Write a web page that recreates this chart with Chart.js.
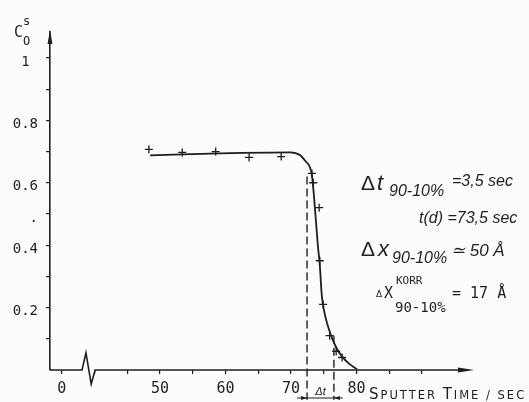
<!DOCTYPE html>
<html>
<head>
<meta charset="utf-8">
<script src="https://cdn.jsdelivr.net/npm/chart.js@4.4.1/dist/chart.umd.min.js"></script>
<style>
  html, body { margin: 0; padding: 0; background: #fcfcfa; }
  #wrap { width: 529px; height: 402px; position: relative; }
</style>
</head>
<body>
<div id="wrap"><canvas id="grafico"></canvas></div>
<script>
// Pontos medidos (cruzes)
const pontosT = [48.3, 53.4, 58.5, 63.6, 68.5, 73.2, 73.4, 74.3, 74.4, 74.9, 75.9, 76.9, 77.8];
const pontosC = [0.707, 0.697, 0.700, 0.681, 0.684, 0.63, 0.60, 0.52, 0.35, 0.21, 0.11, 0.06, 0.04];

// Curva ajustada (traço contínuo)
const curvaT = [48.5, 59.2, 69.9, 71.4, 72.1, 72.9, 73.2, 73.5, 73.8, 74.1, 74.4, 74.7, 75.2, 76.0, 76.9, 77.8, 79.0, 80.1];
const curvaC = [0.688, 0.694, 0.697, 0.688, 0.672, 0.649, 0.623, 0.559, 0.479, 0.399, 0.335, 0.239, 0.175, 0.117, 0.072, 0.043, 0.018, 0.002];

// Linhas tracejadas 90% / 10%
const tracoT = [72.45, 76.55];
const tracoTopo = [0.62, 0.11];
const tracoFundo = -0.095;

// Linha de base com quebra de eixo
const baseT = [33.2, 38.1, 38.7, 39.5, 40.1, 97.0];
const baseC = [0, 0, 0.055, -0.045, 0, 0];

// Marcas dos eixos
const xTicks = [35, 40, 45, 50, 55, 60, 65, 70, 75, 80, 85, 90];
const xRotulos = { 35: '0', 50: '50', 60: '60', 70: '70', 80: '80' };
const yTicks = [0.1, 0.2, 0.3, 0.4, 0.5, 0.6, 0.7, 0.8, 0.9, 1.0];
const yRotulos = { '1.0': '1 ', '0.8': '0.8', '0.6': '0.6', '0.5': '.', '0.4': '0.4', '0.2': '0.2' };

const tinta = '#1e1e1e';
const xy = (xs, ys) => xs.map((x, i) => ({ x: x, y: ys[i] }));

// Setas, títulos e anotações
const anotacoes = {
  id: 'anotacoes',
  afterDraw(chart) {
    const c = chart.ctx;
    const a = chart.chartArea;
    const sx = chart.scales.x, sy = chart.scales.y;
    c.save();
    c.fillStyle = tinta;
    c.strokeStyle = tinta;
    c.textBaseline = 'alphabetic';
    c.textAlign = 'left';

    // seta do eixo y
    c.beginPath();
    c.moveTo(a.left, a.top - 2);
    c.lineTo(a.left - 2.5, a.top + 12);
    c.lineTo(a.left + 2.5, a.top + 12);
    c.closePath();
    c.fill();
    // seta do eixo x
    const y0 = sy.getPixelForValue(0);
    c.beginPath();
    c.moveTo(a.right + 2, y0);
    c.lineTo(a.right - 14, y0 - 2.5);
    c.lineTo(a.right - 14, y0 + 2.5);
    c.closePath();
    c.fill();

    // título do eixo y
    c.font = '15px "DejaVu Sans Mono"';
    c.fillText('C', 14, 37);
    c.font = '12px "DejaVu Sans Mono"';
    c.fillText('O', 23, 45);
    c.fillText('s', 23, 25);

    // título do eixo x (versaletes)
    let px = 369;
    c.letterSpacing = '2px';
    const partes = [['S', 15], ['PUTTER ', 11.5], ['T', 15], ['IME / SEC', 11.5]];
    partes.forEach(p => {
      c.font = p[1] + 'px "DejaVu Sans"';
      c.fillText(p[0], px, 399);
      px += c.measureText(p[0]).width;
    });
    c.letterSpacing = '0px';

    // seta Δt sob o eixo
    const xa = sx.getPixelForValue(tracoT[0]);
    const xb = sx.getPixelForValue(tracoT[1]);
    const yb = 398;
    c.lineWidth = 1.2;
    c.beginPath();
    c.moveTo(xa - 10, yb);
    c.lineTo(xb + 9, yb);
    c.stroke();
    c.beginPath();
    c.moveTo(xa, yb); c.lineTo(xa - 6, yb - 2); c.lineTo(xa - 6, yb + 2); c.closePath(); c.fill();
    c.beginPath();
    c.moveTo(xb, yb); c.lineTo(xb + 6, yb - 2); c.lineTo(xb + 6, yb + 2); c.closePath(); c.fill();
    c.font = 'italic 11px "Liberation Sans"';
    c.textAlign = 'center';
    c.fillText('\u0394t', (xa + xb) / 2, 395);
    c.textAlign = 'left';

    // anotações à direita
    c.font = '21px "Liberation Sans"';
    c.fillText('\u0394', 361, 190);
    c.font = 'italic 22px "Liberation Sans"';
    c.fillText('t', 377, 190);
    c.font = 'italic 16px "Liberation Sans"';
    c.fillText('90-10%', 389, 196);
    c.font = 'italic 16px "Liberation Sans"';
    c.fillText('=3,5 sec', 452, 186);

    c.font = 'italic 16px "Liberation Sans"';
    c.fillText('t(d) =73,5 sec', 419, 223);

    c.font = '21px "Liberation Sans"';
    c.fillText('\u0394', 361, 256);
    c.font = 'italic 22px "Liberation Sans"';
    c.fillText('x', 378, 256);
    c.font = 'italic 16px "Liberation Sans"';
    c.fillText('90-10%', 392, 263);
    c.font = 'italic 17px "Liberation Sans"';
    c.fillText('\u2243 50 \u00C5', 451, 256);

    c.font = '9px "DejaVu Sans"';
    c.fillText('\u0394', 376, 297);
    c.font = '15px "DejaVu Sans Mono"';
    c.fillText('X', 384, 298);
    c.font = '11px "DejaVu Sans Mono"';
    c.fillText('KORR', 396, 284);
    c.font = '14px "DejaVu Sans Mono"';
    c.fillText('90-10%', 395, 312);
    c.font = '15px "DejaVu Sans Mono"';
    c.fillText('= 17 \u00C5', 452, 298);

    c.restore();
  }
};

const grafico = new Chart(document.getElementById('grafico'), {
  type: 'scatter',
  data: {
    datasets: [
      {
        label: 'curva',
        data: xy(curvaT, curvaC),
        showLine: true,
        borderColor: tinta,
        borderWidth: 1.8,
        cubicInterpolationMode: 'monotone',
        pointRadius: 0
      },
      {
        label: 'pontos',
        data: xy(pontosT, pontosC),
        showLine: false,
        pointStyle: 'cross',
        pointRadius: 4,
        pointBorderWidth: 1.3,
        borderColor: tinta,
        backgroundColor: tinta
      },
      {
        label: 'base',
        data: xy(baseT, baseC),
        showLine: true,
        borderColor: tinta,
        borderWidth: 1.6,
        pointRadius: 0,
        clip: false
      },
      {
        label: 'traco90',
        data: [{ x: tracoT[0], y: tracoTopo[0] }, { x: tracoT[0], y: tracoFundo }],
        showLine: true,
        borderColor: tinta,
        borderWidth: 1.4,
        borderDash: [8, 4],
        pointRadius: 0,
        clip: false
      },
      {
        label: 'traco10',
        data: [{ x: tracoT[1], y: tracoTopo[1] }, { x: tracoT[1], y: tracoFundo }],
        showLine: true,
        borderColor: tinta,
        borderWidth: 1.4,
        borderDash: [8, 4],
        pointRadius: 0,
        clip: false
      }
    ]
  },
  options: {
    responsive: true,
    maintainAspectRatio: false,
    animation: false,
    layout: { padding: { top: 32, right: 57, left: 0, bottom: 0 } },
    plugins: {
      legend: { display: false },
      tooltip: { enabled: false }
    },
    scales: {
      x: {
        type: 'linear',
        min: 33.21,
        max: 97.63,
        afterFit: s => { s.height = 32; },
        afterBuildTicks: s => { s.ticks = xTicks.map(v => ({ value: v })); },
        border: { display: false },
        grid: { drawOnChartArea: false, drawTicks: true, tickLength: 4, color: tinta, lineWidth: 1.2 },
        ticks: {
          autoSkip: false,
          maxRotation: 0,
          padding: 6,
          color: tinta,
          font: { family: '"DejaVu Sans Mono"', size: 15 },
          callback: v => xRotulos[v] || ''
        }
      },
      y: {
        type: 'linear',
        min: 0,
        max: 1.083,
        afterFit: s => { s.width = 50; },
        afterBuildTicks: s => { s.ticks = yTicks.map(v => ({ value: v })); },
        border: { display: true, color: tinta, width: 1.6 },
        grid: { drawOnChartArea: false, drawTicks: true, tickLength: 4, color: tinta, lineWidth: 1.2 },
        ticks: {
          padding: 8,
          labelOffset: 4,
          color: tinta,
          font: { family: '"DejaVu Sans Mono"', size: 14 },
          callback: v => yRotulos[Number(v).toFixed(1)] || ''
        }
      }
    }
  },
  plugins: [anotacoes]
});
</script>
</body>
</html>
